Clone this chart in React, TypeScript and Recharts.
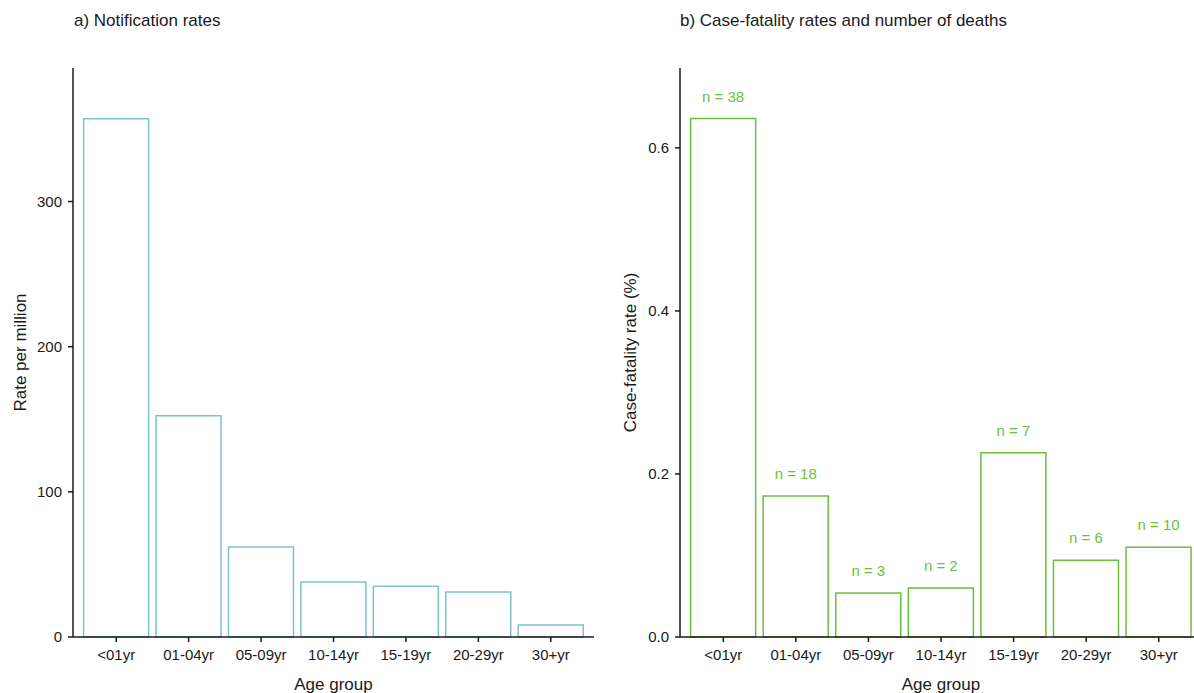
import React from 'react';
import { BarChart, Bar, XAxis, YAxis, LabelList } from 'recharts';

const ageGroups = ['<01yr', '01-04yr', '05-09yr', '10-14yr', '15-19yr', '20-29yr', '30+yr'];
const notificationRates = [357, 152.4, 62, 37.9, 35, 31, 8.3];
const caseFatalityRates = [0.636, 0.173, 0.054, 0.06, 0.226, 0.094, 0.11];
const deaths = [38, 18, 3, 2, 7, 6, 10];
const rateTicks = [0, 100, 200, 300];
const cfrTicks = [0, 0.2, 0.4, 0.6];

const FONT = '"Liberation Sans", Arial, sans-serif';
const INK = '#1a1a1a';
const TEAL = '#7CC3C9';
const GREEN = '#6BBF3F';

const rateData = ageGroups.map((age, i) => ({ age, rate: notificationRates[i] }));
const cfrData = ageGroups.map((age, i) => ({
  age,
  cfr: caseFatalityRates[i],
  label: `n = ${deaths[i]}`,
}));

const tickStyle = { fill: INK, fontSize: 15, fontFamily: FONT };
const axisLine = { stroke: INK, strokeWidth: 1.5 };

const titleStyle: React.CSSProperties = {
  position: 'absolute',
  top: 11,
  fontFamily: FONT,
  fontSize: 17,
  lineHeight: '20px',
  color: INK,
  whiteSpace: 'nowrap',
};

const App = () => {
  return (
    <div
      style={{
        position: 'absolute',
        left: 0,
        top: 0,
        width: 1194,
        height: 693,
        overflow: 'hidden',
        background: '#fff',
      }}
    >
      <div style={{ ...titleStyle, left: 74 }}>a) Notification rates</div>
      <div style={{ ...titleStyle, left: 680 }}>b) Case-fatality rates and number of deaths</div>

      {/* left panel */}
      <div style={{ position: 'absolute', left: 0, top: 0 }}>
        <BarChart
          width={600}
          height={693}
          data={rateData}
          margin={{ top: 68, right: 6, bottom: 0, left: 0 }}
          barCategoryGap="5%"
        >
          <XAxis
            dataKey="age"
            height={56}
            padding={{ left: 7, right: 7 }}
            axisLine={axisLine}
            tickLine={axisLine}
            tickSize={5}
            tickMargin={7}
            tick={tickStyle}
            interval={0}
            label={{
              value: 'Age group',
              position: 'insideBottom',
              offset: 3,
              style: { fill: INK, fontSize: 17, fontFamily: FONT },
            }}
          />
          <YAxis
            width={73}
            domain={[0, 392]}
            ticks={rateTicks}
            axisLine={axisLine}
            tickLine={axisLine}
            tickSize={5}
            tickMargin={6}
            tick={tickStyle}
            label={{
              value: 'Rate per million',
              angle: -90,
              position: 'insideLeft',
              offset: 20,
              style: { fill: INK, fontSize: 17, fontFamily: FONT, textAnchor: 'middle' },
            }}
          />
          <Bar dataKey="rate" fill="#fff" stroke={TEAL} strokeWidth={1.5} isAnimationActive={false} />
        </BarChart>
      </div>

      {/* right panel, runs a little past the page edge like the original */}
      <div style={{ position: 'absolute', left: 600, top: 0 }}>
        <BarChart
          width={602}
          height={693}
          data={cfrData}
          margin={{ top: 68, right: 0, bottom: 0, left: 0 }}
          barCategoryGap="5%"
        >
          <XAxis
            dataKey="age"
            height={56}
            padding={{ left: 7, right: 7 }}
            axisLine={axisLine}
            tickLine={axisLine}
            tickSize={5}
            tickMargin={7}
            tick={tickStyle}
            interval={0}
            label={{
              value: 'Age group',
              position: 'insideBottom',
              offset: 3,
              style: { fill: INK, fontSize: 17, fontFamily: FONT },
            }}
          />
          <YAxis
            width={80}
            domain={[0, 0.698]}
            ticks={cfrTicks}
            tickFormatter={(v: number) => v.toFixed(1)}
            axisLine={axisLine}
            tickLine={axisLine}
            tickSize={5}
            tickMargin={6}
            tick={tickStyle}
            label={{
              value: 'Case-fatality rate (%)',
              angle: -90,
              position: 'insideLeft',
              offset: 30,
              style: { fill: INK, fontSize: 17, fontFamily: FONT, textAnchor: 'middle' },
            }}
          />
          <Bar dataKey="cfr" fill="#fff" stroke={GREEN} strokeWidth={1.5} isAnimationActive={false}>
            <LabelList
              dataKey="label"
              position="top"
              offset={17}
              style={{ fill: GREEN, fontSize: 15, fontFamily: FONT }}
            />
          </Bar>
        </BarChart>
      </div>
    </div>
  );
};

export default App;
